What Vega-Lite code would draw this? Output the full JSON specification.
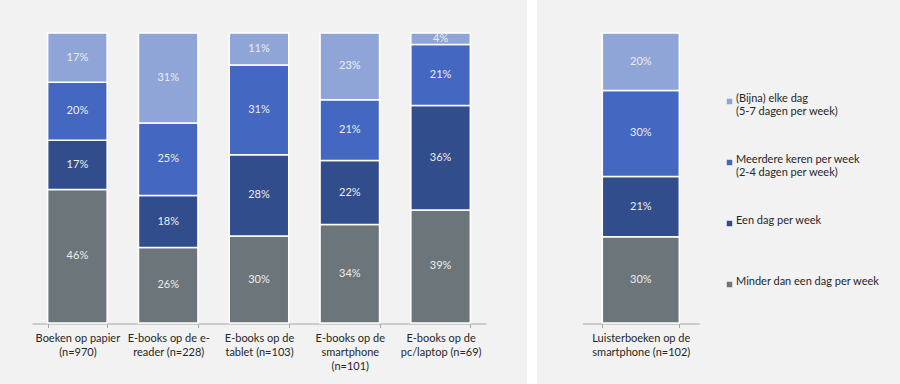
{
  "$schema": "https://vega.github.io/schema/vega-lite/v6.json",
  "padding": 0,
  "background": "white",
  "spacing": 10,
  "config": {
    "font": "Lato",
    "view": {"stroke": null},
    "axis": {
      "grid": false,
      "domainColor": "#a6a6a6",
      "tickColor": "#a6a6a6",
      "tickSize": 4,
      "labelPadding": 5,
      "labelFont": "Lato",
      "labelFontSize": 11,
      "labelColor": "#262626",
      "labelLineHeight": 14
    }
  },
  "datasets": {
    "left": [
      {"cat": "Boeken op papier|(n=970)", "freq": "Minder dan een dag per week", "rank": 1, "v": 0.46},
      {"cat": "Boeken op papier|(n=970)", "freq": "Een dag per week", "rank": 2, "v": 0.17},
      {"cat": "Boeken op papier|(n=970)", "freq": "Meerdere keren per week|(2-4 dagen per week)", "rank": 3, "v": 0.20},
      {"cat": "Boeken op papier|(n=970)", "freq": "(Bijna) elke dag|(5-7 dagen per week)", "rank": 4, "v": 0.17},
      {"cat": "E-books op de e-|reader (n=228)", "freq": "Minder dan een dag per week", "rank": 1, "v": 0.26},
      {"cat": "E-books op de e-|reader (n=228)", "freq": "Een dag per week", "rank": 2, "v": 0.18},
      {"cat": "E-books op de e-|reader (n=228)", "freq": "Meerdere keren per week|(2-4 dagen per week)", "rank": 3, "v": 0.25},
      {"cat": "E-books op de e-|reader (n=228)", "freq": "(Bijna) elke dag|(5-7 dagen per week)", "rank": 4, "v": 0.31},
      {"cat": "E-books op de|tablet (n=103)", "freq": "Minder dan een dag per week", "rank": 1, "v": 0.30},
      {"cat": "E-books op de|tablet (n=103)", "freq": "Een dag per week", "rank": 2, "v": 0.28},
      {"cat": "E-books op de|tablet (n=103)", "freq": "Meerdere keren per week|(2-4 dagen per week)", "rank": 3, "v": 0.31},
      {"cat": "E-books op de|tablet (n=103)", "freq": "(Bijna) elke dag|(5-7 dagen per week)", "rank": 4, "v": 0.11},
      {"cat": "E-books op de|smartphone|(n=101)", "freq": "Minder dan een dag per week", "rank": 1, "v": 0.34},
      {"cat": "E-books op de|smartphone|(n=101)", "freq": "Een dag per week", "rank": 2, "v": 0.22},
      {"cat": "E-books op de|smartphone|(n=101)", "freq": "Meerdere keren per week|(2-4 dagen per week)", "rank": 3, "v": 0.21},
      {"cat": "E-books op de|smartphone|(n=101)", "freq": "(Bijna) elke dag|(5-7 dagen per week)", "rank": 4, "v": 0.23},
      {"cat": "E-books op de|pc/laptop (n=69)", "freq": "Minder dan een dag per week", "rank": 1, "v": 0.39},
      {"cat": "E-books op de|pc/laptop (n=69)", "freq": "Een dag per week", "rank": 2, "v": 0.36},
      {"cat": "E-books op de|pc/laptop (n=69)", "freq": "Meerdere keren per week|(2-4 dagen per week)", "rank": 3, "v": 0.21},
      {"cat": "E-books op de|pc/laptop (n=69)", "freq": "(Bijna) elke dag|(5-7 dagen per week)", "rank": 4, "v": 0.04}
    ],
    "right": [
      {"cat": "Luisterboeken op de|smartphone (n=102)", "freq": "Minder dan een dag per week", "rank": 1, "v": 0.30},
      {"cat": "Luisterboeken op de|smartphone (n=102)", "freq": "Een dag per week", "rank": 2, "v": 0.21},
      {"cat": "Luisterboeken op de|smartphone (n=102)", "freq": "Meerdere keren per week|(2-4 dagen per week)", "rank": 3, "v": 0.30},
      {"cat": "Luisterboeken op de|smartphone (n=102)", "freq": "(Bijna) elke dag|(5-7 dagen per week)", "rank": 4, "v": 0.20}
    ]
  },
  "resolve": {"scale": {"x": "independent", "y": "independent", "color": "independent"}},
  "hconcat": [
    {
      "width": 527,
      "height": 384,
      "view": {"fill": "#f2f2f2", "stroke": null},
      "data": {"name": "left"},
      "encoding": {
        "x": {
          "field": "cat", "type": "nominal", "sort": null,
          "scale": {"range": [32, 486], "paddingInner": 0.345, "paddingOuter": 0.1725},
          "axis": {"title": null, "labelAngle": 0, "labelExpr": "split(datum.label, '|')", "tickBand": "extent", "offset": -60.5}
        }
      },
      "layer": [
        {
          "mark": {"type": "bar", "stroke": "white", "strokeWidth": 1.5},
          "encoding": {
            "y": {"field": "v", "type": "quantitative", "stack": "normalize", "scale": {"range": [323, 33]}, "axis": null},
            "color": {
              "field": "freq", "type": "nominal",
              "scale": {
                "domain": ["(Bijna) elke dag|(5-7 dagen per week)", "Meerdere keren per week|(2-4 dagen per week)", "Een dag per week", "Minder dan een dag per week"],
                "range": ["#8fa5d8", "#4467c1", "#324d8c", "#6c767a"]
              },
              "legend": null
            },
            "order": {"field": "rank"}
          }
        },
        {
          "mark": {"type": "text", "color": "#ededed", "fontSize": 11, "font": "Lato"},
          "encoding": {
            "y": {"field": "v", "type": "quantitative", "stack": "normalize", "bandPosition": 0.5},
            "detail": {"field": "freq"},
            "order": {"field": "rank"},
            "text": {"field": "v", "type": "quantitative", "format": ".0%"}
          }
        }
      ]
    },
    {
      "width": 363,
      "height": 384,
      "view": {"fill": "#f2f2f2", "stroke": null},
      "data": {"name": "right"},
      "encoding": {
        "x": {
          "field": "cat", "type": "nominal", "sort": null,
          "scale": {"range": [45.3, 162.3], "paddingInner": 0.342, "paddingOuter": 0.171},
          "axis": {"title": null, "labelAngle": 0, "labelExpr": "split(datum.label, '|')", "tickBand": "extent", "offset": -60.5}
        }
      },
      "layer": [
        {
          "mark": {"type": "bar", "stroke": "white", "strokeWidth": 1.5},
          "encoding": {
            "y": {"field": "v", "type": "quantitative", "stack": "normalize", "scale": {"range": [323, 33]}, "axis": null},
            "color": {
              "field": "freq", "type": "nominal",
              "scale": {
                "domain": ["(Bijna) elke dag|(5-7 dagen per week)", "Meerdere keren per week|(2-4 dagen per week)", "Een dag per week", "Minder dan een dag per week"],
                "range": ["#8fa5d8", "#4467c1", "#324d8c", "#6c767a"]
              },
              "legend": {
                "orient": "none", "legendX": 187, "legendY": 96,
                "title": null, "padding": 0,
                "symbolType": "square", "symbolSize": 30, "symbolStrokeWidth": 0,
                "labelExpr": "split(datum.label, '|')",
                "labelFont": "Lato", "labelFontSize": 11, "labelColor": "#262626",
                "labelOffset": 1, "labelBaseline": "alphabetic", "labelLimit": 300,
                "gridAlign": "all",
                "rowPadding": 36
              }
            },
            "order": {"field": "rank"}
          }
        },
        {
          "mark": {"type": "text", "color": "#ededed", "fontSize": 11, "font": "Lato"},
          "encoding": {
            "y": {"field": "v", "type": "quantitative", "stack": "normalize", "bandPosition": 0.5},
            "detail": {"field": "freq"},
            "order": {"field": "rank"},
            "text": {"field": "v", "type": "quantitative", "format": ".0%"}
          }
        }
      ]
    }
  ]
}
